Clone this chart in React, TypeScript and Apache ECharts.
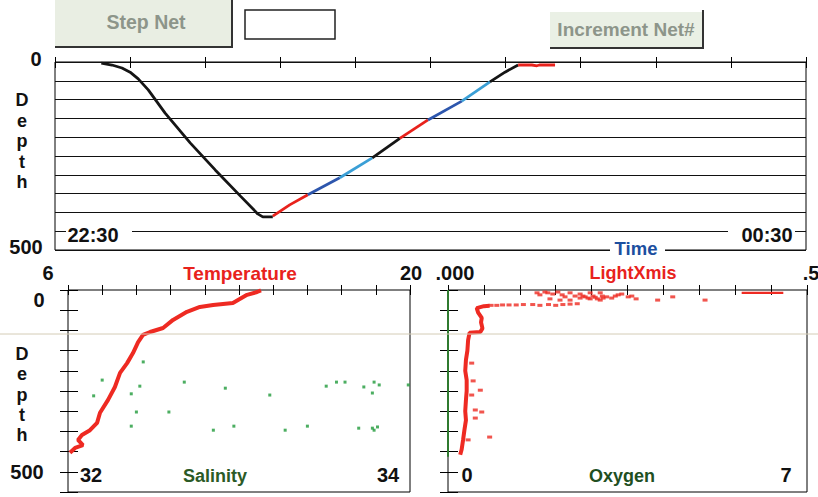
import React, { useEffect, useRef } from "react";
import * as echarts from "echarts";

// ---------- Top chart: net depth vs time (minutes after 22:30) ----------
const timeLabels = ["22:30", "00:30"];
const descentBlack = [[7.4, 3], [9.1, 8], [10.7, 16], [12.0, 27], [13.3, 45], [14.9, 74], [17.6, 136], [21.6, 215], [25.6, 287], [29.6, 356], [32.4, 404], [33.2, 412], [34.8, 412]];
const ascentRed1 = [[34.8, 410], [37.5, 380], [40.4, 353]];
const ascentBlue1 = [[40.4, 353], [45.5, 308]];
const ascentCyan1 = [[45.5, 308], [50.7, 255]];
const ascentBlack1 = [[50.7, 255], [55.1, 203]];
const ascentRed2 = [[55.1, 203], [59.6, 154]];
const ascentBlue2 = [[59.6, 154], [65.0, 104]];
const ascentCyan2 = [[65.0, 104], [69.5, 53]];
const ascentBlack2 = [[69.5, 53], [71.9, 27], [74.0, 8]];
const surfaceRed = [[74.0, 8], [76.2, 8], [77.0, 10], [77.4, 8], [79.9, 8]];

// ---------- Bottom-left: temperature (6..20) and salinity (32..34) vs depth ----------
const temperatureProfile = [[13.9, 1], [13.74, 5], [13.33, 12], [12.75, 32], [11.94, 37], [11.4, 42], [10.87, 54], [10.3, 74], [9.89, 94], [9.36, 104], [9.07, 111], [8.87, 129], [8.66, 156], [8.42, 181], [8.13, 205], [7.92, 240], [7.64, 272], [7.31, 304], [7.19, 329], [6.9, 347], [6.57, 359], [6.41, 371], [6.61, 384], [6.29, 391], [6.08, 403]];
const salinityPoints = [[32.44, 178], [32.2, 223], [32.15, 262], [32.37, 257], [32.42, 238], [32.68, 228], [32.92, 243], [33.18, 260], [32.4, 302], [32.59, 302], [32.37, 337], [32.85, 347], [32.97, 337], [33.27, 347], [33.4, 337], [33.51, 238], [33.57, 228], [33.62, 228], [33.73, 240], [33.79, 228], [33.82, 235], [33.78, 255], [33.99, 235], [33.7, 342], [33.78, 342], [33.79, 347], [33.81, 339]];
const temperatureRange = [6, 20];
const salinityRange = [32, 34];

// ---------- Bottom-right: light transmission (0..0.5) and oxygen (0..7) vs depth ----------
const lightColumn = [[0.017, 408], [0.019, 395], [0.021, 371], [0.023, 345], [0.025, 322], [0.024, 300], [0.025, 272], [0.026, 250], [0.026, 223], [0.024, 200], [0.025, 173], [0.027, 150], [0.028, 124], [0.03, 106], [0.045, 104], [0.048, 95], [0.046, 80], [0.047, 69], [0.042, 56], [0.04, 45], [0.05, 40], [0.058, 39]];
const lightDots = [[0.06, 38], [0.068, 38], [0.076, 37], [0.085, 37], [0.095, 37], [0.105, 36], [0.118, 36], [0.128, 38], [0.14, 36], [0.15, 38], [0.16, 36], [0.17, 35], [0.18, 34],
  [0.124, 7], [0.128, 12], [0.135, 5], [0.139, 7], [0.146, 10], [0.153, 5], [0.159, 12], [0.163, 17], [0.17, 7], [0.177, 15], [0.184, 20], [0.191, 17], [0.198, 22], [0.202, 15], [0.208, 22], [0.212, 25], [0.216, 20], [0.221, 17], [0.228, 20], [0.233, 15], [0.237, 12], [0.242, 10], [0.251, 17], [0.256, 15], [0.262, 22], [0.184, 10], [0.17, 25], [0.156, 25], [0.142, 22], [0.198, 7], [0.212, 7], [0.205, 18], [0.195, 20], [0.188, 15], [0.215, 15],
  [0.292, 25], [0.313, 17], [0.358, 25],
  [0.033, 181], [0.035, 225], [0.045, 248], [0.033, 260], [0.038, 297], [0.047, 302], [0.038, 317], [0.058, 364], [0.028, 371]];
const lightSurface = [[0.409, 7], [0.467, 7]];
const oxygenProfile = [[0.0, 0], [0.0, 413]];

const FONT = '"Liberation Sans", Arial, sans-serif';

function txt(text: string, x: number, y: number, size: number, fill = "#111", align = "center") {
  return {
    type: "text", x, y, z: 60,
    style: { text, font: `bold ${size}px ${FONT}`, fill, align, verticalAlign: "middle" },
  };
}
function whiteRect(x: number, y: number, w: number, h: number) {
  return { type: "rect", z: 55, shape: { x, y, width: w, height: h }, style: { fill: "#fff" } };
}

function tickAxis(gridIndex: number, position: string, min: number, max: number, interval: number, len: number) {
  return {
    type: "value", gridIndex, position, min, max, interval,
    axisLine: { show: false },
    axisLabel: { show: false },
    splitLine: { show: false },
    axisTick: { show: true, inside: true, length: len, lineStyle: { color: "#000", width: 1 } },
  };
}
function depthAxis(gridIndex: number, position: string, len: number) {
  return {
    type: "value", gridIndex, position, min: 0, max: 500, interval: 50, inverse: true,
    axisLine: { show: false },
    axisLabel: { show: false },
    splitLine: { show: false },
    axisTick: { show: true, inside: true, length: len, lineStyle: { color: "#000", width: 1 } },
  };
}
function seg(data: number[][], color: string, width = 2.8, x = 0, y = 0) {
  return {
    type: "line", xAxisIndex: x, yAxisIndex: y, data, showSymbol: false, symbol: "none",
    lineStyle: { color, width }, itemStyle: { color }, z: 5,
  };
}

export default function App() {
  const ref = useRef<HTMLDivElement>(null);
  useEffect(() => {
    if (!ref.current) return;
    const chart = echarts.init(ref.current, undefined, { renderer: "svg" });
    const RED = "#e8221c", BLUE = "#2d56ad", CYAN = "#3a9fd6", BLACK = "#151515";
    const option: any = {
      animation: false,
      backgroundColor: "#fff",
      grid: [
        { left: 55, top: 62, width: 751, height: 188, show: true, borderColor: "#000", borderWidth: 1 },
        { left: 68, top: 290, width: 342, height: 202, show: true, borderColor: "#000", borderWidth: 1 },
        { left: 448, top: 290, width: 359, height: 202, show: true, borderColor: "#000", borderWidth: 1 },
      ],
      xAxis: [
        tickAxis(0, "bottom", 0, 120, 12, 5),
        tickAxis(0, "top", 0, 120, 12, 6),
        tickAxis(1, "top", 0, 10, 1, 5),
        tickAxis(1, "bottom", 0, 10, 1, 5),
        { type: "value", gridIndex: 1, show: false, min: temperatureRange[0], max: temperatureRange[1] },
        { type: "value", gridIndex: 1, show: false, min: salinityRange[0], max: salinityRange[1] },
        tickAxis(2, "top", 0, 0.5, 0.05, 5),
        tickAxis(2, "bottom", 0, 7, 0.7, 5),
      ],
      yAxis: [
        {
          type: "value", gridIndex: 0, min: 0, max: 500, interval: 50, inverse: true,
          axisLine: { show: false }, axisLabel: { show: false }, axisTick: { show: false },
          splitLine: { show: true, lineStyle: { color: "#111", width: 1.2 } },
        },
        depthAxis(1, "left", 10),
        depthAxis(1, "right", 8),
        depthAxis(2, "left", 10),
        depthAxis(2, "right", 8),
      ],
      series: [
        seg(descentBlack, BLACK),
        seg(ascentRed1, RED),
        seg(ascentBlue1, BLUE),
        seg(ascentCyan1, CYAN),
        seg(ascentBlack1, BLACK),
        seg(ascentRed2, RED),
        seg(ascentBlue2, BLUE),
        seg(ascentCyan2, CYAN),
        seg(ascentBlack2, BLACK),
        seg(surfaceRed, RED),
        seg(temperatureProfile, "#ee2a22", 4, 4, 1),
        {
          type: "scatter", xAxisIndex: 5, yAxisIndex: 1, data: salinityPoints,
          symbol: "rect", symbolSize: 3, itemStyle: { color: "#1f9a3a" }, z: 6,
        },
        seg(oxygenProfile, "#2f7a2f", 2, 7, 3),
        seg(lightColumn, "#ee2a22", 4, 6, 3),
        {
          type: "scatter", xAxisIndex: 6, yAxisIndex: 3, data: lightDots,
          symbol: "rect", symbolSize: [5, 3], itemStyle: { color: "#ee2a22" }, z: 6,
        },
        seg(lightSurface, "#ee2a22", 2.4, 6, 3),
      ],
      graphic: [
        // buttons
        { type: "rect", z: 40, shape: { x: 55, y: 0, width: 177, height: 47 }, style: { fill: "#e9eee3" } },
        { type: "line", z: 41, shape: { x1: 55, y1: 47, x2: 233, y2: 47 }, style: { stroke: "#333", lineWidth: 2 } },
        { type: "line", z: 41, shape: { x1: 232, y1: 0, x2: 232, y2: 47 }, style: { stroke: "#333", lineWidth: 2 } },
        txt("Step Net", 146, 22, 19.5, "#8d958a"),
        { type: "rect", z: 40, shape: { x: 245, y: 10, width: 90, height: 29 }, style: { fill: "#fff", stroke: "#222", lineWidth: 1.5 } },
        { type: "rect", z: 40, shape: { x: 550, y: 12, width: 153, height: 36 }, style: { fill: "#eaf0e5" } },
        { type: "line", z: 41, shape: { x1: 550, y1: 48, x2: 704, y2: 48 }, style: { stroke: "#333", lineWidth: 2 } },
        { type: "line", z: 41, shape: { x1: 703, y1: 10, x2: 703, y2: 48 }, style: { stroke: "#333", lineWidth: 2 } },
        txt("Increment Net#", 626, 29, 19, "#8d958a"),
        // top chart labels
        txt("0", 36, 59, 20),
        txt("500", 26, 247, 20),
        whiteRect(66, 224, 66, 15),
        txt(timeLabels[0], 93, 235, 20),
        whiteRect(728, 224, 67, 15),
        txt(timeLabels[1], 767, 235, 20),
        whiteRect(610, 241, 55, 15),
        txt("Time", 636, 248, 18.5, "#1c4f9f"),
        { type: "text", z: 60, x: 22, y: 90, style: { text: "D\ne\np\nt\nh", font: `bold 18px ${FONT}`, fill: "#111", align: "center", verticalAlign: "top", lineHeight: 20.5 } },
        // bottom-left labels
        txt("6", 48, 273, 20),
        txt("Temperature", 240, 273, 19, "#e8221c"),
        txt("20", 411, 273, 20),
        txt("0", 39, 300, 20),
        txt("500", 27, 472, 20),
        { type: "text", z: 60, x: 22, y: 344, style: { text: "D\ne\np\nt\nh", font: `bold 18px ${FONT}`, fill: "#111", align: "center", verticalAlign: "top", lineHeight: 20.3 } },
        txt("32", 91, 475, 20),
        txt("Salinity", 215, 476, 18, "#2b5a26"),
        txt("34", 388, 475, 20),
        // bottom-right labels
        txt(".000", 455, 273, 20),
        txt("LightXmis", 633, 273, 18, "#e8221c"),
        txt(".5", 811, 273, 20),
        txt("0", 467, 475, 20),
        txt("Oxygen", 622, 476, 18, "#214f1f"),
        txt("7", 786, 475, 20),
        // faint scan line
        { type: "line", z: 70, shape: { x1: 0, y1: 334, x2: 818, y2: 334 }, style: { stroke: "#d4ccb6", lineWidth: 1 } },
      ],
    };
    chart.setOption(option);
    return () => chart.dispose();
  }, []);
  return <div ref={ref} style={{ position: "absolute", left: 0, top: 0, width: 818, height: 497 }} />;
}
